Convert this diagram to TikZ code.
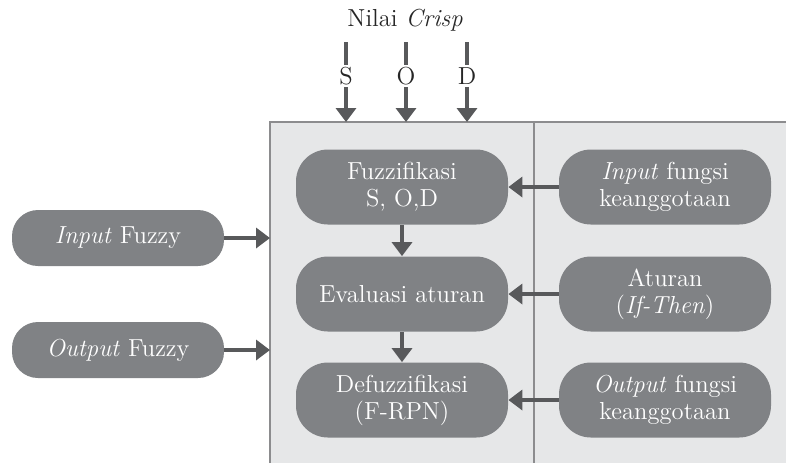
\documentclass[tikz,border=0pt]{standalone}
\usepackage{xcolor}
\usepackage{tikz}
\usetikzlibrary{positioning,arrows.meta}

\definecolor{panelgray}{HTML}{E6E7E8}
\definecolor{framegray}{HTML}{8C8C8E}
\definecolor{boxgray}{HTML}{808285}
\definecolor{arrowgray}{HTML}{58595B}

\begin{document}
\begin{tikzpicture}[x=0.5pt,y=-0.5pt,
		blok/.style={rectangle,rounded corners=16pt,fill=boxgray,text=white,
			minimum width=106pt,minimum height=37.5pt,align=center,
			font=\fontsize{12.3}{13.5}\selectfont,inner sep=2pt},
		blokkecil/.style={blok,minimum height=28pt,rounded corners=13pt},
		panah/.style={draw=arrowgray,line width=1.8pt,
			-{Triangle[width=10pt,length=7pt]}},
		garis/.style={draw=arrowgray,line width=1.8pt},
		label/.style={font=\fontsize{12.3}{13.5}\selectfont,text=black!85,inner sep=1pt}]
			
			\useasboundingbox (0,0) rectangle (786,463);
			
			% panel
			\fill[panelgray] (270,122) rectangle (786,463);
			\draw[framegray,line width=1.2pt] (270,463) -- (270,122) -- (786,122);
			\draw[framegray,line width=1.2pt] (534,122) -- (534,463);
			\coordinate (atas) at (270,122);
			\coordinate (kiri) at (270,0);
			
			% nilai crisp
			\node[label] (crisp) at (405,20) {Nilai \textit{Crisp}};
			\node[label] (s) at (346,76) {S};
			\node[label] (o) at (406,76) {O};
			\node[label] (d) at (467,76) {D};
			
			\draw[garis] (s |- 0,42) -- (s.north);
			\draw[garis] (o |- 0,42) -- (o.north);
			\draw[garis] (d |- 0,42) -- (d.north);
			\draw[panah] (s.south) -- (s |- atas);
			\draw[panah] (o.south) -- (o |- atas);
			\draw[panah] (d.south) -- (d |- atas);
			
			% kolom kiri
			\node[blok] (fuzz) at (402,187) {Fuzzifikasi\\S, O,D};
			\node[blok] (eval) at (402,294) {Evaluasi aturan};
			\node[blok] (defuzz) at (402,400) {Defuzzifikasi\\(F-RPN)};
			
			% kolom kanan
			\node[blok] (fungsiin) at (665,187) {\textit{Input} fungsi\\keanggotaan};
			\node[blok] (aturan) at (665,294) {Aturan\\(\textit{If-Then})};
			\node[blok] (fungsiout) at (665,400) {\textit{Output} fungsi\\keanggotaan};
			
			% masukan luar
			\node[blokkecil] (infuzzy) at (118,238) {\textit{Input} Fuzzy};
			\node[blokkecil] (outfuzzy) at (118,350) {\textit{Output} Fuzzy};
			
			\draw[panah] (fuzz) -- (eval);
			\draw[panah] (eval) -- (defuzz);
			\draw[panah] (fungsiin) -- (fuzz);
			\draw[panah] (aturan) -- (eval);
			\draw[panah] (fungsiout) -- (defuzz);
			\draw[panah] (infuzzy) -- (infuzzy -| kiri);
			\draw[panah] (outfuzzy) -- (outfuzzy -| kiri);
			
		\end{tikzpicture}
\end{document}
